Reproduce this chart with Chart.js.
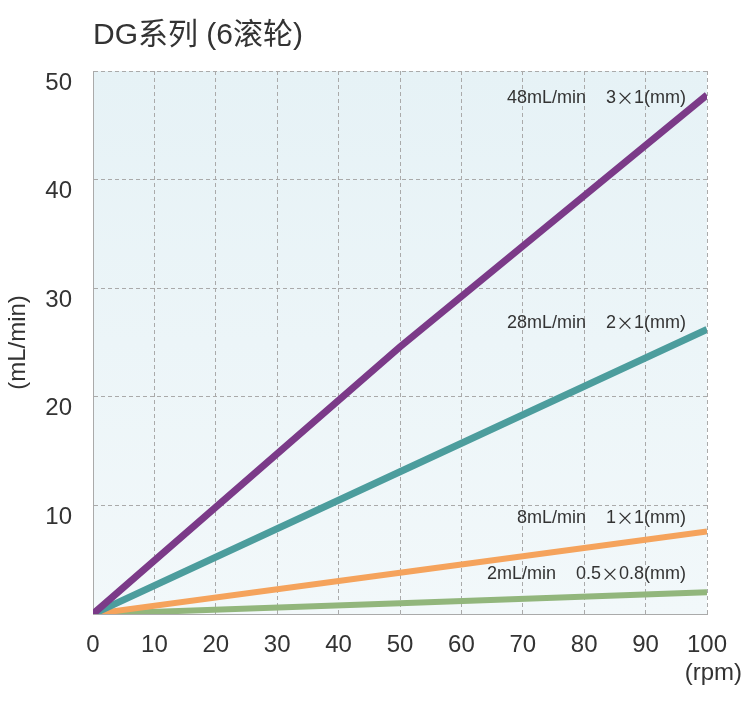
<!DOCTYPE html>
<html>
<head>
<meta charset="utf-8">
<script src="https://cdn.jsdelivr.net/npm/chart.js@4/dist/chart.umd.min.js"></script>
<style>
  body { margin: 0; background: #ffffff; }
  #wrap { width: 750px; height: 714px; position: relative; }
</style>
</head>
<body>
<div id="wrap"><canvas id="myLineChart"></canvas></div>
<script>
// rpm readings along the x axis
var rpmValues = [0, 50, 100];

// flow (mL/min)
var flow3x1 = [0, 24.6, 47.8];
var flow2x1 = [0, 13.1, 26.2];
var flow1x1 = [0, 3.8, 7.6];
var flow05x08 = [0, 1.0, 2.0];

var flowNames = ['48mL/min', '28mL/min', '8mL/min', '2mL/min'];
var tubeNames = ['3×1(mm)', '2×1(mm)', '1×1(mm)', '0.5×0.8(mm)'];
var seriesColors = ['#7b3a88', '#4c9d9d', '#f5a35c', '#92b67c'];
// where each series note sits (flow value at its vertical centre)
var noteAt = [47.5, 26.8, 8.8, 3.7];

var xTicks = [0, 10, 20, 30, 40, 50, 60, 70, 80, 90, 100];
var yTicks = [0, 10, 20, 30, 40, 50];

var fontFamily = "'Liberation Sans', Arial, 'Noto Sans CJK SC', sans-serif";
var cjkFamily = "'Noto Sans CJK SC', sans-serif";
var textColor = '#333333';
var gridColor = '#aaaaaa';

function toPoints(values){
    var pts = [];
    for(var i=0; i<rpmValues.length; i++){
        pts.push({x: rpmValues[i], y: values[i]});
    }
    return pts;
}

var allSeries = [flow3x1, flow2x1, flow1x1, flow05x08];
var datasets = [];
for(var i=0; i<allSeries.length; i++){
    datasets.push({
        label: flowNames[i] + ' ' + tubeNames[i],
        data: toPoints(allSeries[i]),
        borderColor: seriesColors[i],
        backgroundColor: seriesColors[i],
        borderWidth: i < 2 ? 7 : 6,
        pointRadius: 0,
        tension: 0,
        fill: false
    });
}

// light blue plot background
var plotBackground = {
    id: 'plotBackground',
    beforeDraw: function(chart){
        var ctx = chart.ctx;
        var a = chart.chartArea;
        ctx.save();
        ctx.fillStyle = '#ffffff';
        ctx.fillRect(0, 0, chart.width, chart.height);
        var g = ctx.createLinearGradient(0, a.top, 0, a.bottom);
        g.addColorStop(0, '#e6f2f6');
        g.addColorStop(1, '#f2f8fa');
        ctx.fillStyle = g;
        ctx.fillRect(a.left, a.top, a.right - a.left, a.bottom - a.top);
        ctx.restore();
    }
};

// draws text right-aligned at x, with the × sign taken from the CJK font (wide form)
function drawRightRuns(ctx, text, x, y, size){
    var parts = text.split('×');
    var normal = size + 'px ' + fontFamily;
    var wide = size + 'px ' + cjkFamily;
    var cur = x;
    for(var p=parts.length-1; p>=0; p--){
        ctx.font = normal;
        ctx.fillText(parts[p], cur, y);
        cur -= ctx.measureText(parts[p]).width;
        if(p > 0){
            ctx.font = wide;
            ctx.fillText('×', cur, y);
            cur -= ctx.measureText('×').width;
        }
    }
    return cur;
}

// series notes and the x unit
var notes = {
    id: 'notes',
    afterDatasetsDraw: function(chart){
        var ctx = chart.ctx;
        var xs = chart.scales.x;
        var ys = chart.scales.y;
        ctx.save();
        ctx.fillStyle = textColor;
        ctx.textAlign = 'right';
        ctx.textBaseline = 'middle';
        for(var i=0; i<flowNames.length; i++){
            var y = ys.getPixelForValue(noteAt[i]);
            var start = drawRightRuns(ctx, tubeNames[i], xs.getPixelForValue(100) - 21, y, 18);
            ctx.font = '18px ' + fontFamily;
            ctx.fillText(flowNames[i], start - 20, y);
        }
        ctx.font = '24px ' + fontFamily;
        ctx.fillText('(rpm)', xs.right + 35, xs.bottom - 41);
        ctx.restore();
    }
};

new Chart(document.getElementById('myLineChart'), {
    type: 'line',
    data: { datasets: datasets },
    plugins: [plotBackground, notes],
    options: {
        responsive: true,
        maintainAspectRatio: false,
        animation: false,
        layout: { padding: { left: 0, right: 43, top: 0, bottom: 0 } },
        plugins: {
            legend: { display: false },
            tooltip: { enabled: false },
            title: {
                display: true,
                text: 'DG系列 (6滚轮)',
                align: 'start',
                fullSize: false,
                color: textColor,
                font: { family: fontFamily, size: 30, weight: 'normal' },
                padding: { top: 18, bottom: 17 }
            }
        },
        scales: {
            x: {
                type: 'linear',
                min: 0,
                max: 100,
                afterBuildTicks: function(scale){
                    scale.ticks = xTicks.map(function(v){ return {value: v}; });
                },
                afterFit: function(scale){ scale.height = 100; },
                grid: { color: gridColor, lineWidth: 1, drawTicks: false },
                border: { color: gridColor, dash: [4, 3] },
                ticks: {
                    color: textColor,
                    padding: 17,
                    font: { family: fontFamily, size: 24 }
                }
            },
            y: {
                type: 'linear',
                min: 0,
                max: 50,
                afterBuildTicks: function(scale){
                    scale.ticks = yTicks.map(function(v){ return {value: v}; });
                },
                afterFit: function(scale){ scale.width = 93; },
                grid: { color: gridColor, lineWidth: 1, drawTicks: false },
                border: { color: gridColor, dash: [4, 3] },
                title: {
                    display: true,
                    text: '(mL/min)',
                    color: textColor,
                    font: { family: fontFamily, size: 24 },
                    padding: { top: 4, bottom: 0 }
                },
                ticks: {
                    color: textColor,
                    padding: 21,
                    labelOffset: 12,
                    font: { family: fontFamily, size: 24 },
                    callback: function(v){ return v === 0 ? '' : v; }
                }
            }
        }
    }
});
</script>
</body>
</html>
